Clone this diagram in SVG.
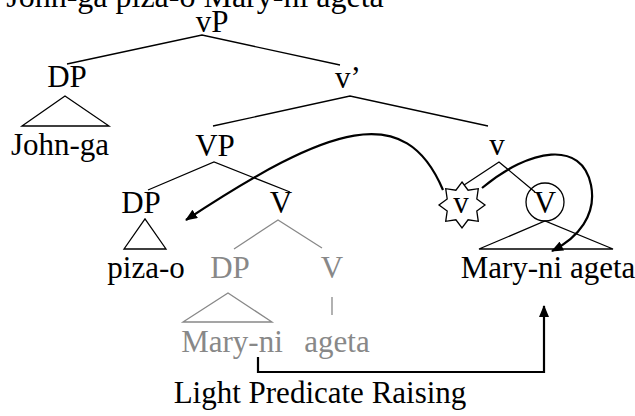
<svg xmlns="http://www.w3.org/2000/svg" width="635" height="416" viewBox="0 0 635 416">
<style>
text{font-family:"Liberation Serif","Times New Roman",serif;font-size:31px;fill:#000;text-anchor:middle}
.g{fill:#888}
.ln{stroke:#000;stroke-width:1.3;fill:none}
.gl{stroke:#888;stroke-width:1.3;fill:none}
.mv{stroke:#000;stroke-width:2.2;fill:none}
</style>
<defs>
<marker id="ah" viewBox="0 0 12 10" refX="11" refY="5" markerWidth="12" markerHeight="10" markerUnits="userSpaceOnUse" orient="auto">
<path d="M0,0 L12,5 L0,10 Z" fill="#000"/>
</marker>
</defs>
<rect width="635" height="416" fill="#fff"/>
<g id="title"><text x="195" y="7" style="font-size:32px">John-ga piza-o Mary-ni ageta</text></g>
<g id="connectors">
<path class="ln" d="M67,64 L202,35 L340,65"/>
<path class="ln" d="M213,126 L350,96 L488,126"/>
<path class="ln" d="M148,190 L214,162 L290,192"/>
<path class="ln" d="M455,191 L499,162 L535,192"/>
<path class="gl" d="M234,249 L278,220 L322,248"/>
<path class="gl" d="M332,297 L332,315"/>
<path class="mv" d="M443,190 C405,100 330,125 186,220" marker-end="url(#ah)"/>
<path class="mv" d="M482,188 C530,148 582,140 591,185 C597,215 578,238 552,251" marker-end="url(#ah)"/>
<path class="mv" d="M258,357 L258,372 L544,372 L544,306" marker-end="url(#ah)"/>
</g>
<g id="vP"><text x="212" y="32">vP</text></g>
<g id="DP1"><text x="67" y="87">DP</text><path class="ln" d="M22,126 L65,96 L109,126 Z"/></g>
<g id="John-ga"><text x="60" y="155">John-ga</text></g>
<g id="vbar"><text x="348" y="88">v’</text></g>
<g id="VP"><text x="215" y="156">VP</text></g>
<g id="v"><text x="497" y="155">v</text></g>
<g id="DP2"><text x="141" y="213">DP</text><path class="ln" d="M124,249 L145,219 L166,249 Z"/></g>
<g id="V"><text x="281" y="213">V</text></g>
<g id="piza-o"><text x="146" y="278">piza-o</text></g>
<g id="DP3"><text class="g" x="230" y="278">DP</text><path class="gl" d="M183,322 L228,293 L272,322 Z"/></g>
<g id="V2"><text class="g" x="332" y="278">V</text></g>
<g id="Mary-ni-gray"><text class="g" x="232" y="352">Mary-ni</text></g>
<g id="ageta-gray"><text class="g" x="337" y="352">ageta</text></g>
<g id="v-star">
<polygon class="ln" fill="#fff" style="fill:#fff" points="462,182 468.1,190.2 478.3,188.7 476.8,198.9 485,205 476.8,211.1 478.3,221.3 468.1,219.8 462,228 455.9,219.8 445.7,221.3 447.2,211.1 439,205 447.2,198.9 445.7,188.7 455.9,190.2"/>
<text x="461" y="213">v</text>
</g>
<g id="V-circle">
<circle class="ln" cx="545" cy="202" r="19"/>
<text x="545" y="213">V</text>
<path class="ln" d="M479,249 L545,221 L613,249 Z"/>
</g>
<g id="Mary-ni-ageta"><text x="548" y="278">Mary-ni ageta</text></g>
<g id="label"><text x="320" y="403">Light Predicate Raising</text></g>
</svg>
